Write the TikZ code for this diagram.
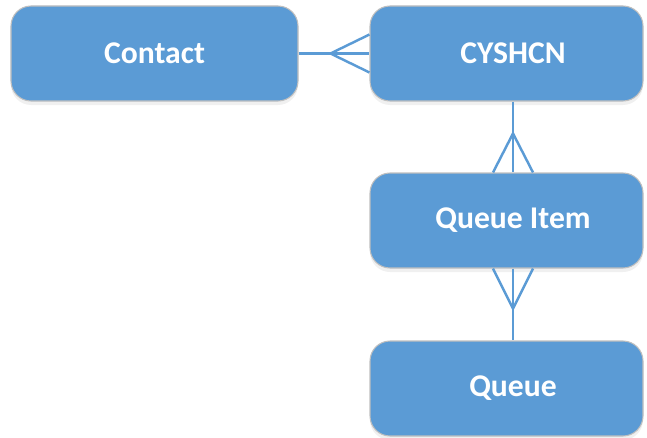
\documentclass[tikz,border=0pt]{standalone}
\usepackage{fontspec}
\setmainfont{Carlito}
\usetikzlibrary{shadows}
\definecolor{entblue}{HTML}{5B9BD5}
\begin{document}
\begin{tikzpicture}[entity/.style={rectangle, rounded corners=0.4cm, fill=entblue, draw=black!25, line width=0.6pt, text=white, font=\bfseries\fontsize{18}{21}\selectfont, minimum height=1.9cm, drop shadow={opacity=0.12, shadow xshift=0cm, shadow yshift=-0.08cm}}, rightcol/.style={entity, minimum width=5.46cm, execute at begin node={\hspace*{0.26cm}}}, rel/.style={draw=entblue, line width=1.4pt}]
	\useasboundingbox (0, 0) rectangle (12.94, 8.74);

	\node[entity, minimum width=5.74cm] (contact) at (3.09, 7.67) {Contact};
	\node[rightcol] (cyshcn) at (10.13, 7.67) {CYSHCN};
	\node[rightcol] (qitem) at (10.13, 4.33) {Queue Item};
	\node[rightcol] (queue) at (10.13, 0.97) {Queue};

	% contact -> many cyshcn
	\coordinate (fork-a) at ([xshift=-0.78cm]cyshcn.west);
	\draw[rel] (contact) -- (cyshcn);
	\draw[rel] ([yshift=0.38cm]cyshcn.west) -- (fork-a) -- ([yshift=-0.38cm]cyshcn.west);

	% cyshcn -> many queue items
	\coordinate (fork-b) at ([xshift=0.13cm, yshift=0.78cm]qitem.north);
	\draw[rel] ([xshift=0.13cm]cyshcn.south) -- ([xshift=0.13cm]qitem.north);
	\draw[rel] ([xshift=-0.27cm]qitem.north) -- (fork-b) -- ([xshift=0.53cm]qitem.north);

	% queue -> many queue items
	\coordinate (fork-c) at ([xshift=0.13cm, yshift=-0.8cm]qitem.south);
	\draw[rel] ([xshift=0.13cm]qitem.south) -- ([xshift=0.13cm]queue.north);
	\draw[rel] ([xshift=-0.27cm]qitem.south) -- (fork-c) -- ([xshift=0.53cm]qitem.south);
\end{tikzpicture}
\end{document}
